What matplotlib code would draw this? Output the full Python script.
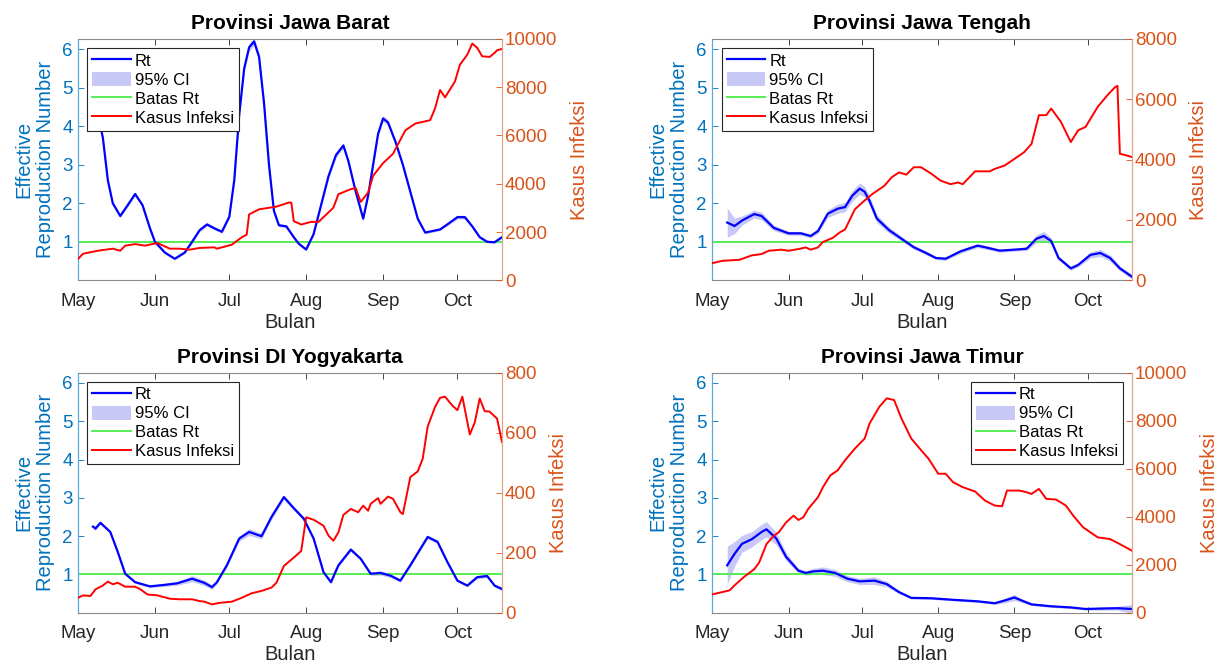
import matplotlib.pyplot as plt
from matplotlib.patches import Patch
from matplotlib.lines import Line2D

plt.rcParams['font.family'] = ['Liberation Sans', 'DejaVu Sans']

# day 0 = 1 May, last day = 19 Oct
month_days = [0, 31, 61, 92, 123, 153]
month_names = ['May', 'Jun', 'Jul', 'Aug', 'Sep', 'Oct']

# ---- Provinsi Jawa Barat
jabar_rt_day = [6, 8, 10, 12, 14, 17, 20, 23, 26, 29, 31, 35, 39, 43, 46, 49, 52, 55, 58, 61,
                63, 65, 67, 69, 71, 73, 75, 77, 79, 81, 84, 87, 89, 92, 95, 98, 101, 104, 107, 109,
                112, 115, 117, 119, 121, 123, 125, 128, 131, 134, 137, 140, 143, 146, 150, 153, 156, 159, 162, 165,
                168, 171]
jabar_rt = [4.8, 4.3, 3.7, 2.6, 2.0, 1.67, 1.95, 2.24, 1.95, 1.35, 1.0, 0.72, 0.56, 0.72, 1.0, 1.3, 1.45, 1.35, 1.26, 1.65,
            2.6, 4.3, 5.5, 6.05, 6.2, 5.8, 4.6, 3.0, 1.8, 1.43, 1.4, 1.12, 0.95, 0.8, 1.2, 1.95, 2.7, 3.25, 3.5, 3.1,
            2.3, 1.6, 2.2, 3.0, 3.8, 4.2, 4.1, 3.6, 3.0, 2.3, 1.6, 1.24, 1.28, 1.32, 1.5, 1.64, 1.64, 1.4, 1.12, 1.0,
            0.99, 1.12]
jabar_ci = [0.06, 0.05, 0.05, 0.05, 0.04, 0.04, 0.05, 0.05, 0.04, 0.04, 0.04, 0.03, 0.03, 0.03, 0.04, 0.04, 0.05, 0.04, 0.04, 0.05,
            0.06, 0.08, 0.09, 0.1, 0.1, 0.09, 0.08, 0.06, 0.05, 0.04, 0.04, 0.04, 0.03, 0.03, 0.04, 0.05, 0.06, 0.07, 0.07, 0.06,
            0.05, 0.04, 0.05, 0.06, 0.07, 0.08, 0.07, 0.06, 0.05, 0.05, 0.04, 0.03, 0.03, 0.03, 0.04, 0.05, 0.05, 0.04, 0.03, 0.03,
            0.03, 0.04]
jabar_case_day = [0, 2, 8, 14, 17, 19, 23, 27, 32, 37, 41, 45, 49, 55, 56, 62, 66, 68, 69, 73,
                  80, 85, 86, 87, 90, 94, 97, 103, 105, 110, 112, 114, 117, 119, 123, 127, 132, 136, 142, 144,
                  146, 148, 152, 154, 157, 159, 161, 163, 166, 168, 169, 171]
jabar_case = [890, 1100, 1225, 1310, 1225, 1435, 1500, 1435, 1545, 1310, 1310, 1270, 1340, 1365, 1310, 1475, 1780, 1890, 2730, 2940,
              3050, 3220, 3220, 2450, 2310, 2420, 2420, 3010, 3565, 3775, 3815, 3245, 3635, 4330, 4850, 5235, 6210, 6490, 6630, 7120,
              7880, 7575, 8230, 8925, 9345, 9805, 9625, 9275, 9250, 9415, 9525, 9580]

# ---- Provinsi Jawa Tengah
jateng_rt_day = [6, 9, 12, 17, 20, 25, 31, 36, 40, 43, 47, 51, 54, 57, 60, 62, 64, 67, 72, 77,
                 82, 87, 91, 95, 101, 108, 111, 117, 124, 128, 132, 135, 138, 141, 146, 149, 154, 158, 162, 166,
                 171]
jateng_rt = [1.5, 1.41, 1.55, 1.72, 1.67, 1.36, 1.22, 1.22, 1.15, 1.28, 1.73, 1.86, 1.9, 2.2, 2.38, 2.3, 2.06, 1.6, 1.3, 1.08,
             0.86, 0.71, 0.58, 0.56, 0.75, 0.9, 0.86, 0.77, 0.8, 0.82, 1.08, 1.15, 1.02, 0.58, 0.31, 0.4, 0.66, 0.71, 0.58, 0.31,
             0.09]
jateng_ci = [0.38, 0.2, 0.12, 0.1, 0.1, 0.07, 0.05, 0.05, 0.05, 0.06, 0.1, 0.12, 0.12, 0.14, 0.15, 0.13, 0.12, 0.1, 0.08, 0.06,
             0.05, 0.05, 0.04, 0.04, 0.05, 0.05, 0.05, 0.04, 0.04, 0.05, 0.1, 0.12, 0.08, 0.05, 0.05, 0.05, 0.08, 0.09, 0.08, 0.06,
             0.06]
jateng_case_day = [0, 4, 11, 16, 20, 23, 28, 31, 35, 38, 40, 43, 45, 49, 52, 54, 58, 61, 65, 70,
                   73, 76, 79, 82, 85, 89, 93, 97, 100, 102, 107, 113, 115, 119, 122, 127, 130, 133, 136, 138,
                   142, 146, 149, 152, 157, 161, 164, 165, 166, 169, 171]
jateng_case = [570, 645, 680, 825, 870, 980, 1015, 980, 1035, 1090, 1015, 1090, 1270, 1405, 1595, 1680, 2350, 2575, 2850, 3130,
               3410, 3575, 3500, 3745, 3745, 3540, 3300, 3185, 3240, 3185, 3610, 3610, 3690, 3800, 3965, 4245, 4520, 5470, 5470, 5690,
               5245, 4580, 4970, 5080, 5750, 6140, 6395, 6440, 4190, 4130, 4080]

# ---- Provinsi DI Yogyakarta
jogja_rt_day = [6, 7, 9, 13, 16, 19, 23, 29, 35, 40, 46, 51, 54, 56, 60, 65, 69, 74, 78, 83,
                87, 91, 95, 99, 102, 105, 110, 114, 118, 122, 126, 130, 134, 141, 145, 149, 153, 157, 161, 165,
                168, 171]
jogja_rt = [2.25, 2.2, 2.35, 2.11, 1.59, 1.02, 0.8, 0.69, 0.73, 0.77, 0.89, 0.78, 0.67, 0.8, 1.24, 1.94, 2.11, 2.0, 2.5, 3.02,
            2.73, 2.46, 1.94, 1.06, 0.8, 1.24, 1.65, 1.41, 1.02, 1.04, 0.97, 0.84, 1.24, 1.98, 1.85, 1.32, 0.84, 0.71, 0.93, 0.96,
            0.71, 0.62]
jogja_ci = [0.05, 0.05, 0.04, 0.04, 0.03, 0.03, 0.03, 0.03, 0.04, 0.05, 0.08, 0.07, 0.06, 0.05, 0.05, 0.07, 0.09, 0.07, 0.06, 0.06,
            0.05, 0.05, 0.04, 0.03, 0.03, 0.04, 0.05, 0.04, 0.04, 0.06, 0.05, 0.04, 0.04, 0.05, 0.05, 0.04, 0.03, 0.03, 0.04, 0.04,
            0.04, 0.04]
jogja_case_day = [0, 2, 5, 7, 10, 12, 14, 16, 19, 23, 25, 28, 32, 37, 41, 46, 49, 51, 54, 57,
                  62, 66, 70, 74, 78, 80, 83, 87, 90, 92, 95, 99, 101, 103, 105, 107, 110, 113, 115, 117,
                  118, 121, 122, 125, 127, 130, 131, 134, 137, 139, 141, 144, 146, 148, 151, 153, 155, 157, 158, 160,
                  162, 164, 166, 169, 171]
jogja_case = [50, 58, 56, 78, 91, 104, 95, 100, 87, 87, 79, 61, 58, 47, 45, 45, 39, 37, 28, 33,
              37, 50, 65, 73, 84, 100, 156, 184, 206, 318, 310, 290, 257, 240, 268, 326, 346, 335, 357, 340,
              363, 382, 363, 387, 380, 335, 329, 452, 471, 513, 620, 686, 716, 720, 690, 675, 720, 636, 594, 634,
              714, 672, 670, 647, 569]

# ---- Provinsi Jawa Timur
jatim_rt_day = [6, 9, 12, 16, 20, 22, 26, 30, 35, 38, 41, 45, 50, 55, 60, 66, 71, 76, 81, 89,
                98, 108, 115, 119, 123, 126, 130, 138, 146, 152, 158, 165, 171]
jatim_rt = [1.24, 1.54, 1.8, 1.92, 2.11, 2.18, 1.94, 1.46, 1.1, 1.04, 1.08, 1.1, 1.04, 0.89, 0.82, 0.84, 0.75, 0.54, 0.39, 0.38,
            0.34, 0.3, 0.25, 0.32, 0.4, 0.32, 0.22, 0.17, 0.14, 0.1, 0.11, 0.12, 0.1]
jatim_ci = [0.5, 0.32, 0.22, 0.2, 0.2, 0.2, 0.16, 0.1, 0.06, 0.06, 0.08, 0.1, 0.09, 0.08, 0.08, 0.1, 0.07, 0.04, 0.03, 0.03,
            0.03, 0.03, 0.03, 0.06, 0.08, 0.05, 0.03, 0.03, 0.03, 0.03, 0.04, 0.05, 0.12]
jatim_case_day = [0, 3, 7, 9, 13, 17, 19, 22, 25, 27, 30, 33, 35, 37, 39, 43, 45, 48, 51, 54,
                  58, 62, 64, 68, 71, 74, 77, 81, 85, 88, 92, 95, 98, 102, 107, 111, 115, 118, 120, 125,
                  128, 130, 133, 136, 140, 144, 147, 151, 157, 162, 166, 171]
jatim_case = [770, 840, 935, 1145, 1505, 1815, 2090, 2860, 3210, 3350, 3765, 4045, 3865, 3975, 4325, 4815, 5230, 5720, 5930, 6350,
              6835, 7255, 7880, 8580, 8930, 8860, 8090, 7255, 6770, 6420, 5790, 5790, 5440, 5230, 5050, 4675, 4465, 4435, 5090, 5090,
              5020, 4950, 5160, 4745, 4715, 4465, 4045, 3560, 3140, 3070, 2860, 2580]

titles = ['Provinsi Jawa Barat', 'Provinsi Jawa Tengah', 'Provinsi DI Yogyakarta', 'Provinsi Jawa Timur']
case_max = [10000, 8000, 800, 10000]
case_step = [2000, 2000, 200, 2000]
legend_loc = ['upper left', 'upper left', 'upper left', 'upper right']

C_LEFT = '#0072BD'
C_RIGHT = '#D95319'
C_RT = '#0000ff'
C_CI = '#c8c8f7'
C_BATAS = '#55ee55'
C_CASE = '#ff0000'
C_AX = '#262626'

fig = plt.figure(figsize=(12.2, 6.69), dpi=100)
boxes = [[0.064, 0.581, 0.3475, 0.361],
         [0.584, 0.581, 0.344, 0.361],
         [0.064, 0.084, 0.3475, 0.359],
         [0.584, 0.084, 0.344, 0.359]]

rt_days = [jabar_rt_day, jateng_rt_day, jogja_rt_day, jatim_rt_day]
rts = [jabar_rt, jateng_rt, jogja_rt, jatim_rt]
cis = [jabar_ci, jateng_ci, jogja_ci, jatim_ci]
case_days = [jabar_case_day, jateng_case_day, jogja_case_day, jatim_case_day]
cases = [jabar_case, jateng_case, jogja_case, jatim_case]

for i in range(4):
    ax = fig.add_axes(boxes[i])
    ax2 = ax.twinx()
    lo = [r - c for r, c in zip(rts[i], cis[i])]
    hi = [r + c for r, c in zip(rts[i], cis[i])]
    ax.fill_between(rt_days[i], lo, hi, color=C_CI, lw=0, zorder=1)
    ax.plot(rt_days[i], rts[i], color=C_RT, lw=1.6, zorder=3)
    ax.axhline(1, color=C_BATAS, lw=1.4, zorder=2)
    ax2.plot(case_days[i], cases[i], color=C_CASE, lw=1.4)

    ax.set_xlim(0, 171)
    ax.set_ylim(0, 6.27)
    ax.set_yticks([1, 2, 3, 4, 5, 6])
    ax.set_xticks(month_days)
    ax.set_xticklabels(month_names)
    ax2.set_ylim(0, case_max[i])
    ax2.set_yticks(range(0, case_max[i] + 1, case_step[i]))

    ax.tick_params(axis='x', direction='in', top=True, labelsize=13.5, colors=C_AX, length=4, pad=9, width=0.6)
    ax.tick_params(axis='y', direction='in', labelsize=13.5, colors=C_LEFT, length=4, pad=4, width=0.6)
    ax2.tick_params(axis='y', direction='in', labelsize=13.5, colors=C_RIGHT, length=4, pad=2, width=0.6)
    for s in ['top', 'bottom']:
        ax.spines[s].set_color('#8a8a8a')
        ax.spines[s].set_linewidth(0.8)
        ax2.spines[s].set_visible(False)
    ax.spines['left'].set_color('#5aa8dc')
    ax.spines['left'].set_linewidth(0.9)
    ax.spines['right'].set_visible(False)
    ax2.spines['left'].set_visible(False)
    ax2.spines['right'].set_color('#e0a585')
    ax2.spines['right'].set_linewidth(0.9)

    ax.set_title(titles[i], fontsize=15, fontweight='bold', pad=7)
    ax.set_xlabel('Bulan', fontsize=14.5, color=C_AX, labelpad=2)
    ax.set_ylabel('Effective\nReproduction Number', fontsize=14.5, color=C_LEFT, labelpad=5, linespacing=1.2)
    ax2.set_ylabel('Kasus Infeksi', fontsize=14.5, color=C_RIGHT, labelpad=9)

    handles = [Line2D([], [], color=C_RT, lw=1.6),
               Patch(facecolor=C_CI, edgecolor='none'),
               Line2D([], [], color=C_BATAS, lw=1.4),
               Line2D([], [], color=C_CASE, lw=1.4)]
    labels = ['Rt', '95% CI', 'Batas Rt', 'Kasus Infeksi']
    leg = ax2.legend(handles, labels, loc=legend_loc[i], fontsize=12, fancybox=False,
                     edgecolor=C_AX, framealpha=1, handlelength=2.3, handleheight=0.9,
                     handletextpad=0.25, borderpad=0.3, labelspacing=0.2, borderaxespad=0.55)
    leg.get_frame().set_linewidth(0.8)

fig.savefig('out.png', dpi=100)
